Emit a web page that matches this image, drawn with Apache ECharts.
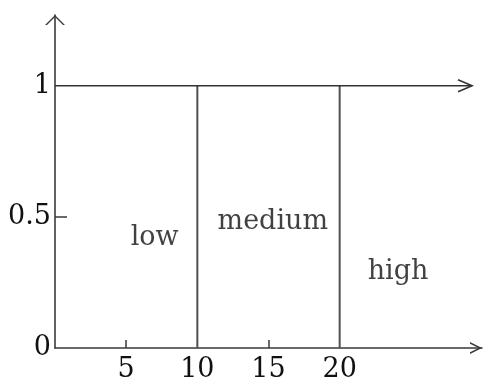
<!DOCTYPE html>
<html><head><meta charset="utf-8">
<script src="https://cdn.jsdelivr.net/npm/echarts@6/dist/echarts.min.js"></script>
<style>html,body{margin:0;padding:0;background:#fff}#c{width:483px;height:378px}</style>
</head><body><div id="c"></div>
<script>
// ---- data ----
const xTickValues = [5, 15];
const xLabelValues = [5, 10, 15, 20];
const yTickValues = [0.5];
const yLabelValues = [0, 0.5, 1];
const boundaries = [10, 20];          // crisp set boundaries
const membership = 1;                 // membership degree
const topLineStart = 0;
const topLineEnd = 29.3;
const setNames = ['low', 'medium', 'high'];
const setNameX = [7, 15.3, 24.1];
const setNameY = [0.42, 0.48, 0.29];

// ---- style ----
const FONT = 'DejaVu Serif';
const INK = '#3a3a3a';
const TXT = '#111';
const chevronX = 'path://M0,12L6,0L12,12L10.3,12L6,3.4L1.7,12Z';
const chevronY = 'path://M0,10L10,0L20,10L18,10L10,2L2,10Z';

const chart = echarts.init(document.getElementById('c'), null, {renderer: 'canvas'});
chart.setOption({
  animation: false,
  backgroundColor: '#fff',
  grid: {left: 55, right: 1, top: 15, bottom: 30, containLabel: false, outerBoundsMode: 'none'},
  xAxis: {
    type: 'value', min: 0, max: 30, interval: 5,
    axisLine: {lineStyle: {color: INK, width: 1.6}, symbol: ['none', chevronX], symbolSize: [12, 12], symbolOffset: [0, -6]},
    axisTick: {inside: true, length: 8, customValues: xTickValues, lineStyle: {color: INK, width: 1.5}},
    axisLabel: {customValues: xLabelValues, fontFamily: FONT, fontSize: 27, color: TXT, margin: 8},
    splitLine: {show: false}
  },
  yAxis: {
    type: 'value', min: 0, max: 1.27, interval: 0.5,
    axisLine: {lineStyle: {color: INK, width: 1.6}, symbol: ['none', chevronY], symbolSize: [20, 10], symbolOffset: [0, -5]},
    axisTick: {inside: true, length: 12, customValues: yTickValues, lineStyle: {color: INK, width: 1.5}},
    axisLabel: {customValues: yLabelValues, fontFamily: FONT, fontSize: 27, color: TXT, margin: 4},
    splitLine: {show: false}
  },
  series: [
    {
      type: 'custom', coordinateSystem: 'cartesian2d', silent: true,
      data: boundaries.map(b => [b, membership]),
      renderItem(params, api) {
        const x = api.value(0), m = api.value(1);
        const p0 = api.coord([x, 0]), p1 = api.coord([x, m]);
        return {type: 'line', shape: {x1: p0[0], y1: p0[1], x2: p1[0], y2: p1[1]}, style: {stroke: '#505050', lineWidth: 2}};
      }
    },
    {
      type: 'custom', coordinateSystem: 'cartesian2d', silent: true,
      data: [[topLineStart, membership, topLineEnd]],
      renderItem(params, api) {
        const m = api.value(1);
        const a = api.coord([api.value(0), m]), b = api.coord([api.value(2), m]);
        return {type: 'group', children: [
          {type: 'line', shape: {x1: a[0], y1: a[1], x2: b[0], y2: b[1]}, style: {stroke: '#333', lineWidth: 1.4}},
          {type: 'polyline', shape: {points: [[b[0] - 14, b[1] - 6], [b[0], b[1]], [b[0] - 14, b[1] + 6]]}, style: {stroke: '#333', lineWidth: 1.6, fill: null}}
        ]};
      }
    },
    {
      type: 'scatter', silent: true, symbolSize: 0,
      data: setNames.map((n, i) => [setNameX[i], setNameY[i], n]),
      label: {show: true, position: 'inside', formatter: p => p.data[2], fontFamily: FONT, fontSize: 27, color: TXT}
    }
  ]
});
</script></body></html>
